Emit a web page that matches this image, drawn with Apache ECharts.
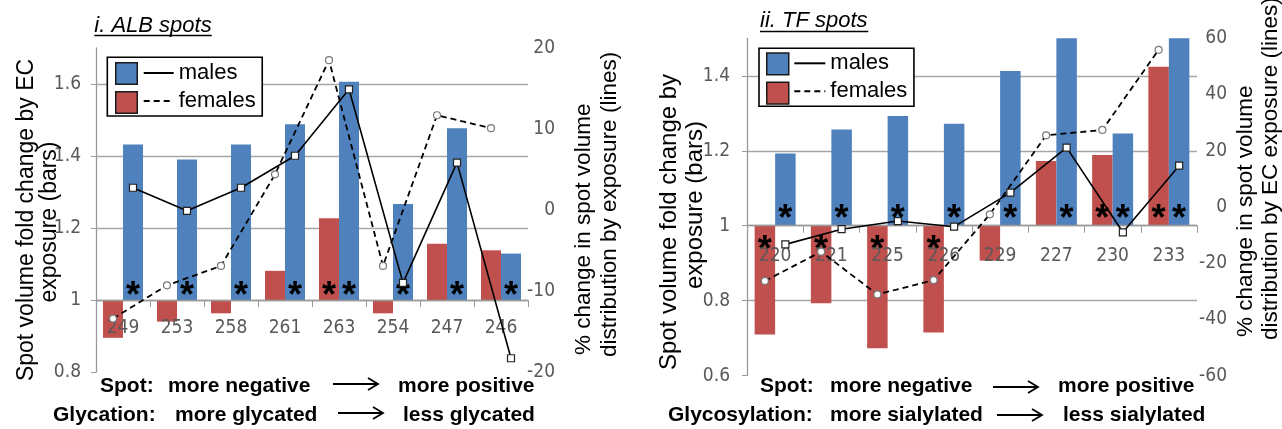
<!DOCTYPE html>
<html><head><meta charset="utf-8">
<script src="https://cdn.jsdelivr.net/npm/echarts@6/dist/echarts.min.js"></script>
<style>html,body{margin:0;padding:0;background:#fff}#c{width:1282px;height:429px}</style>
</head><body><div id="c"></div><script>
// ---------- data ----------
const catsALB = ['249','253','258','261','263','254','247','246'];
const maleBarsALB = [1.432,1.390,1.432,1.488,1.606,1.267,1.477,1.129];
const femaleBarsALB = [0.895,0.940,0.963,1.081,1.227,0.963,1.156,1.138];
const maleLineALB = [2.75,-0.1,2.75,6.7,14.9,-9.0,5.85,-18.3];
const femaleLineALB = [-13.4,-9.3,-6.9,4.4,18.5,-6.9,11.7,10.1];
const maleSigALB = [1,1,1,1,1,1,1,1];
const femaleSigALB = [0,0,0,0,1,0,0,0];

const catsTF = ['220','221','225','226','229','227','230','233'];
const maleBarsTF = [1.193,1.257,1.293,1.272,1.413,1.5,1.246,1.5];
const femaleBarsTF = [0.710,0.793,0.673,0.715,0.907,1.173,1.189,1.424];
const maleLineTF = [-13.3,-7.9,-5.0,-7.0,5.1,21.1,-9.0,14.7];
const femaleLineTF = [-26.3,-15.9,-31.1,-26.0,-2.6,25.5,27.4,55.9];
const maleSigTF = [1,1,1,1,1,1,1,1];
const femaleSigTF = [1,1,1,1,0,0,1,1];

const leftTicksALB = [0.8,1,1.2,1.4,1.6];
const rightTicksALB = [-20,-10,0,10,20];
const leftTicksTF = [0.6,0.8,1,1.2,1.4];
const rightTicksTF = [-60,-40,-20,0,20,40,60];

// ---------- style / layout ----------
const BLUE = '#4f81bd', RED = '#c0504d', GRID = '#a6a6a6', LBL = '#595959';
const NARROW = "'Liberation Sans Narrow','Arial Narrow','DejaVu Sans Condensed',sans-serif";
const BASE = 1; // bars rise/fall from fold change 1
const G1 = {left:96, top:48, width:432, height:324};
const G2 = {left:747, top:38.3, width:450, height:337.4};
const BW1 = 20, BW2 = 20.5;
const MAX1 = 1.7, MAX2 = 1.5;

function barData(vals, offPos, offNeg) {
  return vals.map((v, i) => ({
    value: +(v - BASE).toFixed(4),
    label: v >= BASE
      ? {position:'insideBottom', distance:0, offset:[0, offPos]}
      : {position:'insideTop', distance:0, offset:[0, offNeg]}
  }));
}
function starLabel(sig) {
  return {show:true, formatter: p => sig[p.dataIndex] ? '*' : '', color:'#000',
    fontSize:36, fontWeight:'bold', fontFamily:'Arial'};
}
function linePts(vals, side, bw, gw) {
  const off = (bw / 2) / (gw / vals.length);
  return vals.map((v, i) => [i + 0.5 + side * off, v]);
}
const foldFmt = v => String(Math.round((v + BASE) * 10) / 10);

// category axis placed on the fold-change = 1 line of the left value axis
function catAxis(grid, cats, g, minV, maxV, margin) {
  const off = -g.height * (BASE - minV) / (maxV - minV);
  return {type:'category', gridIndex:grid, data:cats, z:3, position:'bottom', offset:off,
    axisLine:{show:true, onZero:false, lineStyle:{color:'#9a9a9a', width:1.3}},
    axisTick:{show:true, length:7, lineStyle:{color:'#9a9a9a'}},
    axisLabel:{margin:margin, color:LBL, fontSize:19, fontFamily:NARROW},
    splitLine:{show:false}};
}
function hiddenX(grid, n) {
  return {type:'value', gridIndex:grid, min:0, max:n, show:false, position:'top',
    axisLine:{onZero:false}, splitLine:{show:false}};
}
function leftY(grid, min, max, margin) {
  return {type:'value', gridIndex:grid, min:min, max:max, interval:0.2, position:'left',
    axisLine:{show:true, onZero:false, lineStyle:{color:'#9a9a9a', width:1.3}},
    axisTick:{show:true, length:5, lineStyle:{color:'#9a9a9a'}},
    axisLabel:{formatter:foldFmt, margin:margin, color:LBL, fontSize:19, fontFamily:NARROW, showMaxLabel:false},
    splitLine:{show:true, showMinLine:false, showMaxLine:false, lineStyle:{color:GRID, width:1.3}}};
}
function rightY(grid, min, max, interval, margin) {
  return {type:'value', gridIndex:grid, min:min, max:max, interval:interval, position:'right',
    axisLine:{show:false, onZero:false}, axisTick:{show:false}, splitLine:{show:false},
    axisLabel:{align:'right', margin:margin, color:LBL, fontSize:19, fontFamily:NARROW}};
}
function maleLine(xi, yi, data) {
  return {name:'males line', type:'line', xAxisIndex:xi, yAxisIndex:yi, data:data, z:4,
    lineStyle:{color:'#000', width:1.6, type:'solid'}, symbol:'rect', symbolSize:7,
    itemStyle:{color:'#fff', borderColor:'#222', borderWidth:1.2}};
}
function femaleLine(xi, yi, data) {
  return {name:'females line', type:'line', xAxisIndex:xi, yAxisIndex:yi, data:data, z:4,
    lineStyle:{color:'#000', width:1.8, type:[6,4]}, symbol:'circle', symbolSize:7,
    itemStyle:{color:'#fff', borderColor:'#777', borderWidth:1.2}};
}
function barSeries(name, xi, yi, vals, sig, color, bw, offPos, offNeg) {
  return {name:name, type:'bar', xAxisIndex:xi, yAxisIndex:yi, barWidth:bw, barGap:'0%',
    data:barData(vals, offPos, offNeg), itemStyle:{color:color}, label:starLabel(sig)};
}
function legends(bx, by, bw, bh, gap, lx, ly, pad, lw) {
  return [
    {left:bx, top:by, orient:'vertical', z:7, data:['males','females'], icon:'rect',
      itemWidth:bw, itemHeight:bh, itemGap:gap, padding:0, selectedMode:false,
      formatter:() => '', textStyle:{fontSize:10, lineHeight:bh},
      itemStyle:{borderColor:'#1a1a1a', borderWidth:1.5}},
    {left:lx, top:ly, orient:'vertical', z:6, data:['males line','females line'],
      itemWidth:lw, itemHeight:bh, itemGap:gap, padding:pad, selectedMode:false,
      borderColor:'#000', borderWidth:1.6, backgroundColor:'#fff',
      formatter:n => n.replace(' line',''),
      textStyle:{fontSize:22, lineHeight:bh, color:'#000', fontFamily:'Arial'},
      itemStyle:{opacity:0}}
  ];
}
function txt(x, y, s, font, align, rot) {
  return {type:'text', x:x, y:y, rotation:rot || 0, z:10,
    style:{text:s, font:font, fill:'#000', align:align || 'left', verticalAlign:'middle',
      textAlign:align || 'left', textVerticalAlign:'middle'}};
}
function hline(x1, x2, y, w) {
  return {type:'line', z:10, shape:{x1:x1, y1:y, x2:x2, y2:y}, style:{stroke:'#000', lineWidth:w || 1.6}};
}
function arrow(x1, x2, y) {
  return [hline(x1, x2, y, 1.8),
    {type:'polyline', z:10, shape:{points:[[x2-10, y-6],[x2, y],[x2-10, y+6]]}, style:{stroke:'#000', lineWidth:1.8, fill:null}}];
}
const B = 'bold 21px Arial';
const R90 = Math.PI / 2;

const option = {
  animation:false,
  backgroundColor:'#fff',
  grid:[
    {left:G1.left, top:G1.top, width:G1.width, height:G1.height, containLabel:false},
    {left:G2.left, top:G2.top, width:G2.width, height:G2.height, containLabel:false}
  ],
  xAxis:[
    catAxis(0, catsALB, G1, leftTicksALB[0], MAX1, 19), hiddenX(0, catsALB.length),
    catAxis(1, catsTF, G2, leftTicksTF[0], MAX2, 21), hiddenX(1, catsTF.length)
  ],
  yAxis:[
    leftY(0, leftTicksALB[0] - BASE, MAX1 - BASE, 15),
    rightY(0, rightTicksALB[0], rightTicksALB[rightTicksALB.length-1], 10, 27),
    leftY(1, leftTicksTF[0] - BASE, MAX2 - BASE, 17),
    rightY(1, rightTicksTF[0], rightTicksTF[rightTicksTF.length-1], 20, 30)
  ],
  legend:[].concat(
    legends(115, 62, 21.5, 21.5, 6, 107.3, 57.3, [4.7,6.5,4,35.4], 30),
    legends(766, 52.3, 22, 21.7, 6, 759, 48.3, [4,6.6,4,34.3], 31)
  ),
  series:[
    barSeries('females', 0, 0, femaleBarsALB, femaleSigALB, RED, BW1, 15, 7),
    barSeries('males', 0, 0, maleBarsALB, maleSigALB, BLUE, BW1, 15, 7),
    maleLine(1, 1, linePts(maleLineALB, 1, BW1, G1.width)),
    femaleLine(1, 1, linePts(femaleLineALB, -1, BW1, G1.width)),
    barSeries('females', 2, 2, femaleBarsTF, femaleSigTF, RED, BW2, 12, 7),
    barSeries('males', 2, 2, maleBarsTF, maleSigTF, BLUE, BW2, 12, 7),
    maleLine(3, 3, linePts(maleLineTF, 1, BW2, G2.width)),
    femaleLine(3, 3, linePts(femaleLineTF, -1, BW2, G2.width))
  ],
  graphic:[].concat(
    [txt(94.3, 26, 'i. ALB spots', 'italic 22px Arial'), hline(94.3, 211.7, 35.5, 1.5),
     txt(760, 21, 'ii. TF spots', 'italic 22px Arial'), hline(760, 868.3, 31.5, 1.5)],
    // axis titles
    [txt(27, 220, 'Spot volume fold change by EC', '23px Arial', 'center', R90),
     txt(50, 222, 'exposure (bars)', '23px Arial', 'center', R90),
     txt(584, 355, '% change in spot volume', '22.5px Arial', 'left', R90),
     txt(610, 357, 'distribution by exposure (lines)', '22.5px Arial', 'left', R90),
     txt(669, 222, 'Spot volume fold change by', '24px Arial', 'center', R90),
     txt(695, 205, 'exposure (bars)', '24px Arial', 'center', R90),
     txt(1246, 337, '% change in spot volume', '22.5px Arial', 'left', R90),
     txt(1271, 340, 'distribution by EC exposure (lines)', '22.5px Arial', 'left', R90)],
    // bottom annotations
    [txt(100, 386, 'Spot:', B), txt(168, 386, 'more negative', B), txt(398, 386, 'more positive', B),
     txt(53, 415, 'Glycation:', B), txt(175, 415, 'more glycated', B), txt(403, 415, 'less glycated', B),
     txt(760, 386, 'Spot:', B), txt(830, 386, 'more negative', B), txt(1058, 386, 'more positive', B),
     txt(668, 415, 'Glycosylation:', B), txt(830, 415, 'more sialylated', B), txt(1063, 415, 'less sialylated', B)],
    arrow(333, 378, 384), arrow(338, 383, 413), arrow(993, 1038, 387), arrow(997, 1042, 415)
  )
};
const chart = echarts.init(document.getElementById('c'), null, {renderer:'canvas', width:1282, height:429});
chart.setOption(option);
</script></body></html>
